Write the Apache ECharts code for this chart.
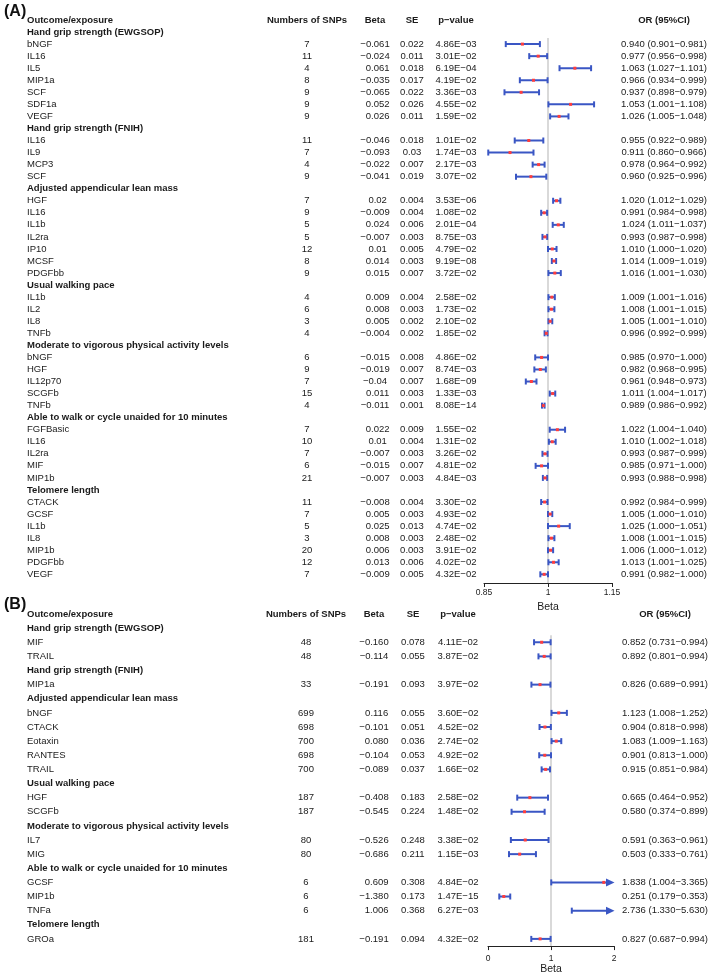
<!DOCTYPE html>
<html>
<head>
<meta charset="utf-8">
<script src="https://cdn.jsdelivr.net/npm/echarts@6/dist/echarts.min.js"></script>
<style>
  html, body { margin: 0; padding: 0; background: #fff; }
  #chart { width: 709px; height: 976px; }
</style>
</head>
<body>
<div id="chart"></div>
<script>
// ---- panel A ----
const groupsA = ['Hand grip strength (EWGSOP)', 'Hand grip strength (FNIH)', 'Adjusted appendicular lean mass', 'Usual walking pace',
  'Moderate to vigorous physical activity levels', 'Able to walk or cycle unaided for 10 minutes', 'Telomere length']
const groupSizesA = [7, 4, 7, 4, 5, 5, 7]
const exposureA = ['bNGF', 'IL16', 'IL5', 'MIP1a', 'SCF', 'SDF1a', 'VEGF',
  'IL16', 'IL9', 'MCP3', 'SCF',
  'HGF', 'IL16', 'IL1b', 'IL2ra', 'IP10', 'MCSF', 'PDGFbb',
  'IL1b', 'IL2', 'IL8', 'TNFb',
  'bNGF', 'HGF', 'IL12p70', 'SCGFb', 'TNFb',
  'FGFBasic', 'IL16', 'IL2ra', 'MIF', 'MIP1b',
  'CTACK', 'GCSF', 'IL1b', 'IL8', 'MIP1b', 'PDGFbb', 'VEGF']
const snpsA = [7, 11, 4, 8, 9, 9, 9, 11, 7, 4, 9, 7, 9, 5, 5, 12, 8, 9, 4, 6, 3, 4, 6, 9, 7, 15, 4, 7, 10, 7, 6, 21, 11, 7, 5, 3, 20, 12, 7]
const betaA = [-0.061, -0.024, 0.061, -0.035, -0.065, 0.052, 0.026,
  -0.046, -0.093, -0.022, -0.041,
  0.02, -0.009, 0.024, -0.007, 0.01, 0.014, 0.015,
  0.009, 0.008, 0.005, -0.004,
  -0.015, -0.019, -0.04, 0.011, -0.011,
  0.022, 0.01, -0.007, -0.015, -0.007,
  -0.008, 0.005, 0.025, 0.008, 0.006, 0.013, -0.009]
const seA = [0.022, 0.011, 0.018, 0.017, 0.022, 0.026, 0.011,
  0.018, 0.03, 0.007, 0.019,
  0.004, 0.004, 0.006, 0.003, 0.005, 0.003, 0.007,
  0.004, 0.003, 0.002, 0.002,
  0.008, 0.007, 0.007, 0.003, 0.001,
  0.009, 0.004, 0.003, 0.007, 0.003,
  0.004, 0.003, 0.013, 0.003, 0.003, 0.006, 0.005]
const pA = [4.86e-3, 3.01e-2, 6.19e-4, 4.19e-2, 3.36e-3, 4.55e-2, 1.59e-2,
  1.01e-2, 1.74e-3, 2.17e-3, 3.07e-2,
  3.53e-6, 1.08e-2, 2.01e-4, 8.75e-3, 4.79e-2, 9.19e-8, 3.72e-2,
  2.58e-2, 1.73e-2, 2.10e-2, 1.85e-2,
  4.86e-2, 8.74e-3, 1.68e-9, 1.33e-3, 8.08e-14,
  1.55e-2, 1.31e-2, 3.26e-2, 4.81e-2, 4.84e-3,
  3.30e-2, 4.93e-2, 4.74e-2, 2.48e-2, 3.91e-2, 4.02e-2, 4.32e-2]
const orA = [0.940, 0.977, 1.063, 0.966, 0.937, 1.053, 1.026,
  0.955, 0.911, 0.978, 0.960,
  1.020, 0.991, 1.024, 0.993, 1.010, 1.014, 1.016,
  1.009, 1.008, 1.005, 0.996,
  0.985, 0.982, 0.961, 1.011, 0.989,
  1.022, 1.010, 0.993, 0.985, 0.993,
  0.992, 1.005, 1.025, 1.008, 1.006, 1.013, 0.991]
const lowerA = [0.901, 0.956, 1.027, 0.934, 0.898, 1.001, 1.005,
  0.922, 0.860, 0.964, 0.925,
  1.012, 0.984, 1.011, 0.987, 1.000, 1.009, 1.001,
  1.001, 1.001, 1.001, 0.992,
  0.970, 0.968, 0.948, 1.004, 0.986,
  1.004, 1.002, 0.987, 0.971, 0.988,
  0.984, 1.000, 1.000, 1.001, 1.000, 1.001, 0.982]
const upperA = [0.981, 0.998, 1.101, 0.999, 0.979, 1.108, 1.048,
  0.989, 0.966, 0.992, 0.996,
  1.029, 0.998, 1.037, 0.998, 1.020, 1.019, 1.030,
  1.016, 1.015, 1.010, 0.999,
  1.000, 0.995, 0.973, 1.017, 0.992,
  1.040, 1.018, 0.999, 1.000, 0.998,
  0.999, 1.010, 1.051, 1.015, 1.012, 1.025, 1.000]
const ticksA = [0.85, 1, 1.15]

// ---- panel B ----
const groupsB = ['Hand grip strength (EWGSOP)', 'Hand grip strength (FNIH)', 'Adjusted appendicular lean mass', 'Usual walking pace',
  'Moderate to vigorous physical activity levels', 'Able to walk or cycle unaided for 10 minutes', 'Telomere length']
const groupSizesB = [2, 1, 5, 2, 2, 3, 1]
const exposureB = ['MIF', 'TRAIL', 'MIP1a', 'bNGF', 'CTACK', 'Eotaxin', 'RANTES', 'TRAIL', 'HGF', 'SCGFb', 'IL7', 'MIG', 'GCSF', 'MIP1b', 'TNFa', 'GROa']
const snpsB = [48, 48, 33, 699, 698, 700, 698, 700, 187, 187, 80, 80, 6, 6, 6, 181]
const betaB = [-0.160, -0.114, -0.191, 0.116, -0.101, 0.080, -0.104, -0.089, -0.408, -0.545, -0.526, -0.686, 0.609, -1.380, 1.006, -0.191]
const seB = [0.078, 0.055, 0.093, 0.055, 0.051, 0.036, 0.053, 0.037, 0.183, 0.224, 0.248, 0.211, 0.308, 0.173, 0.368, 0.094]
const pB = [4.11e-2, 3.87e-2, 3.97e-2, 3.60e-2, 4.52e-2, 2.74e-2, 4.92e-2, 1.66e-2, 2.58e-2, 1.48e-2, 3.38e-2, 1.15e-3, 4.84e-2, 1.47e-15, 6.27e-3, 4.32e-2]
const orB = [0.852, 0.892, 0.826, 1.123, 0.904, 1.083, 0.901, 0.915, 0.665, 0.580, 0.591, 0.503, 1.838, 0.251, 2.736, 0.827]
const lowerB = [0.731, 0.801, 0.689, 1.008, 0.818, 1.009, 0.813, 0.851, 0.464, 0.374, 0.363, 0.333, 1.004, 0.179, 1.330, 0.687]
const upperB = [0.994, 0.994, 0.991, 1.252, 0.998, 1.163, 1.000, 0.984, 0.952, 0.899, 0.961, 0.761, 3.365, 0.353, 5.630, 0.994]
const ticksB = [0, 1, 2]

const FONT = "'Liberation Sans', Arial, sans-serif"
const BLUE = '#3a56c4'
const RED = '#ff3d3d'
const TXT = '#1a1a1a'
const MINUS = '\u2212'

const fmtP = p => {
  const [m, e] = p.toExponential(2).split('e')
  return m + 'E' + (+e < 0 ? MINUS : '+') + String(Math.abs(+e)).padStart(2, '0')
}
// positive numbers get a figure space so they line up with the minus sign
const fmtSigned = s => (s[0] === '-' ? MINUS + s.slice(1) : '\u2007' + s)

function buildRows(groups, sizes, names, snps, beta, se, p, or, lo, hi, fixed) {
  const num = v => (fixed ? v.toFixed(3) : String(v))
  const rows = [{ kind: 'header' }]
  const marks = []
  let k = 0
  groups.forEach((g, gi) => {
    rows.push({ kind: 'group', text: g })
    for (let j = 0; j < sizes[gi]; j++, k++) {
      rows.push({
        kind: 'item',
        cells: [names[k], String(snps[k]), fmtSigned(num(beta[k])), num(se[k]), fmtP(p[k]),
          or[k].toFixed(3) + ' (' + lo[k].toFixed(3) + MINUS + hi[k].toFixed(3) + ')'],
      })
      marks.push([lo[k], hi[k], or[k], rows.length - 1])
    }
  })
  return { rows, marks }
}

const A = buildRows(groupsA, groupSizesA, exposureA, snpsA, betaA, seA, pA, orA, lowerA, upperA, false)
const B = buildRows(groupsB, groupSizesB, exposureB, snpsB, betaB, seB, pB, orB, lowerB, upperB, true)

const colsA = [27, 307, 375, 412, 456, 664]
const colsB = [27, 306, 374, 413, 458, 665]
const headers = ['Outcome/exposure', 'Numbers of SNPs', 'Beta', 'SE', 'p' + MINUS + 'value', 'OR (95%CI)']

function textRender(rows, cols, xMin) {
  return (params, api) => {
    const r = rows[params.dataIndex]
    const y = api.coord([xMin, params.dataIndex])[1]
    const t = (text, x, align, bold) => ({
      type: 'text',
      style: { text, x, y, align, verticalAlign: 'middle', font: (bold ? 'bold ' : '') + '9.5px ' + FONT, fill: TXT },
    })
    let children
    if (r.kind === 'header') children = headers.map((h, i) => t(h, cols[i], i === 0 ? 'left' : 'center', true))
    else if (r.kind === 'group') children = [t(r.text, cols[0], 'left', true)]
    else children = r.cells.map((c, i) => t(c, cols[i], i === 0 ? 'left' : 'center', false))
    return { type: 'group', children }
  }
}

function whiskerRender(xMin, xMax) {
  return (params, api) => {
    const lo = api.value(0), hi = api.value(1), est = api.value(2), row = api.value(3)
    const a = api.coord([Math.max(lo, xMin), row])
    const b = api.coord([Math.min(hi, xMax), row])
    const y = a[1]
    const cap = 3
    const ln = (x1, y1, x2, y2) => ({ type: 'line', shape: { x1, y1, x2, y2 }, style: { stroke: BLUE, lineWidth: 2 } })
    const children = []
    if (hi > xMax) {
      children.push(ln(a[0], y, b[0] - 6, y))
      children.push({ type: 'polygon', shape: { points: [[b[0] - 8, y - 4], [b[0] + 0.5, y], [b[0] - 8, y + 4]] }, style: { fill: BLUE } })
    } else {
      children.push(ln(a[0], y, b[0], y))
      children.push(ln(b[0], y - cap, b[0], y + cap))
    }
    if (lo >= xMin) children.push(ln(a[0], y - cap, a[0], y + cap))
    if (est >= xMin && est <= xMax) {
      const c = api.coord([est, row])
      children.push({ type: 'rect', shape: { x: c[0] - 1.5, y: y - 1.5, width: 3, height: 3 }, style: { fill: RED } })
    }
    return { type: 'group', children }
  }
}

const yMaxA = 46.72
const yMaxB = 23.51

function xAxisCfg(gridIndex, min, max, ticks, margin, gap) {
  return {
    gridIndex, type: 'value', min, max, position: 'bottom',
    name: 'Beta', nameLocation: 'middle', nameGap: gap,
    nameTextStyle: { fontFamily: FONT, fontSize: 10.5, color: TXT, verticalAlign: 'middle' },
    axisLine: { show: true, onZero: false, lineStyle: { color: '#222', width: 1 } },
    axisTick: { show: true, length: 4, customValues: ticks, lineStyle: { color: '#222' } },
    axisLabel: { customValues: ticks, margin, fontFamily: FONT, fontSize: 8.5, color: TXT },
    splitLine: { show: false },
  }
}

function yAxisCfg(gridIndex, max) {
  return { gridIndex, type: 'value', inverse: true, min: 0, max, show: false }
}

const chart = echarts.init(document.getElementById('chart'))
chart.setOption({
  animation: false,
  backgroundColor: '#fff',
  title: [
    { text: '(A)', left: -1, top: -1, textStyle: { fontFamily: FONT, fontSize: 16, fontWeight: 'bold', color: '#111' } },
    { text: '(B)', left: -1, top: 592, textStyle: { fontFamily: FONT, fontSize: 16, fontWeight: 'bold', color: '#111' } },
  ],
  grid: [
    { left: 484, width: 128, top: 20, height: 563 },
    { left: 488, width: 126, top: 614, height: 335 },
  ],
  xAxis: [xAxisCfg(0, 0.85, 1.15, ticksA, 5, 20), xAxisCfg(1, 0, 2, ticksB, 8, 22)],
  yAxis: [yAxisCfg(0, yMaxA), yAxisCfg(1, yMaxB)],
  series: [
    {
      type: 'line', xAxisIndex: 0, yAxisIndex: 0, symbol: 'none', silent: true, z: 1,
      lineStyle: { color: '#cdcdcd', width: 1.5 },
      data: [[1, 1.5], [1, yMaxA]],
    },
    {
      type: 'line', xAxisIndex: 1, yAxisIndex: 1, symbol: 'none', silent: true, z: 1,
      lineStyle: { color: '#cdcdcd', width: 1.5 },
      data: [[1, 1.5], [1, yMaxB]],
    },
    {
      type: 'custom', xAxisIndex: 0, yAxisIndex: 0, clip: false, z: 3,
      renderItem: textRender(A.rows, colsA, 0.85),
      data: A.rows.map((_, i) => [0.85, i]),
    },
    {
      type: 'custom', xAxisIndex: 1, yAxisIndex: 1, clip: false, z: 3,
      renderItem: textRender(B.rows, colsB, 0),
      data: B.rows.map((_, i) => [0, i]),
    },
    {
      type: 'custom', xAxisIndex: 0, yAxisIndex: 0, clip: false, z: 4,
      encode: { x: [0, 1, 2], y: 3 },
      renderItem: whiskerRender(0.85, 1.15),
      data: A.marks,
    },
    {
      type: 'custom', xAxisIndex: 1, yAxisIndex: 1, clip: false, z: 4,
      encode: { x: [0, 1, 2], y: 3 },
      renderItem: whiskerRender(0, 2),
      data: B.marks,
    },
  ],
})
</script>
</body>
</html>
